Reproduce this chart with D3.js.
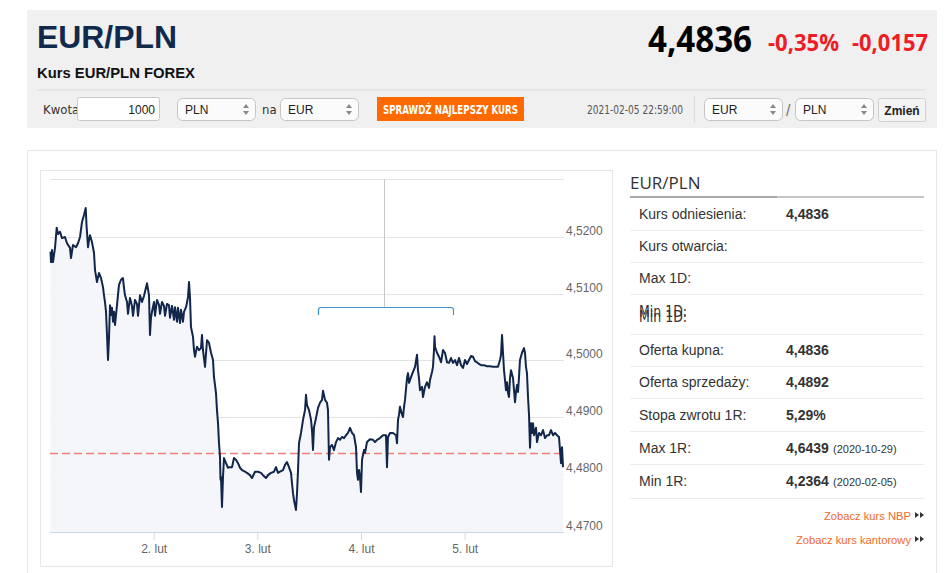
<!DOCTYPE html>
<html>
<head>
<meta charset="utf-8">
<script src="https://cdn.jsdelivr.net/npm/d3@7"></script>
<style>
  html, body { margin: 0; padding: 0; background: #fff; }
  svg { display: block; font-family: "Liberation Sans", Arial, sans-serif; }
</style>
</head>
<body>
<svg id="page"></svg>
<script>
// hours since 2021-02-01 00:00 and EUR/PLN rate
const hours = [0.12,0.23,0.46,0.69,1.16,1.55,1.85,2.32,2.78,3.47,3.94,4.63,4.86,5.32,6.02,6.48,6.95,7.41,7.87,8.27,
  8.45,8.80,9.03,9.26,9.72,10.19,10.42,10.88,11.34,11.81,12.27,12.50,12.73,12.97,13.20,13.43,13.66,13.89,14.12,14.35,
  14.59,14.82,15.05,15.51,15.97,16.44,16.90,17.13,17.36,17.83,18.06,18.52,18.98,19.22,19.68,20.14,20.37,20.84,21.30,21.76,
  21.99,22.46,22.92,23.15,23.38,23.61,24.08,24.31,24.77,25.24,25.47,25.93,26.39,26.63,27.09,27.55,27.78,28.25,28.71,28.94,
  29.40,29.63,30.10,30.33,30.79,31.02,31.49,31.95,32.18,32.41,32.64,33.11,33.34,33.57,34.03,34.50,34.96,35.19,35.42,35.89,
  36.35,36.81,37.28,37.74,37.97,38.43,38.66,38.90,39.13,39.36,39.47,39.59,39.82,40.05,40.28,40.75,41.21,41.67,42.14,42.60,
  43.06,43.53,43.99,44.45,45.15,45.61,46.30,46.77,47.46,48.16,48.85,49.31,50.01,50.47,51.17,51.86,52.32,52.79,53.25,53.94,
  54.41,54.87,55.33,55.80,56.03,56.26,56.49,56.95,57.19,57.42,57.65,58.11,58.58,59.04,59.27,59.50,59.97,60.43,60.66,60.89,
  61.12,61.58,62.05,62.51,62.97,63.21,63.67,64.13,64.36,64.59,64.83,65.29,65.75,66.22,66.68,67.14,67.60,68.07,68.53,68.99,
  69.46,69.92,70.38,70.85,71.08,71.31,71.54,71.77,72.00,72.24,72.70,72.93,73.39,74.09,74.78,75.24,75.71,76.40,77.10,77.79,
  78.02,78.25,78.72,79.41,80.11,80.34,80.57,80.80,81.03,81.50,81.73,81.96,82.19,82.65,82.89,83.12,83.58,84.04,84.51,84.97,
  85.20,85.43,85.66,86.13,86.36,86.82,87.28,87.75,87.98,88.44,88.67,88.90,89.02,89.14,89.60,90.06,90.53,90.99,91.45,91.91,
  92.38,92.84,93.30,93.77,94.23,94.69,95.16,95.62,96.08,96.54,97.01,97.47,97.93,98.40,98.86,99.32,99.79,100.48,101.17,101.87,
  102.56,103.26,103.72,104.18,104.42,104.65,104.88,105.11,105.34,105.57,105.81,106.04,106.27,106.50,106.73,107.20,107.43,107.66,107.89,108.12,
  108.35,108.58,108.81,109.28,109.74,109.97,110.20,110.43,110.67,110.90,111.13,111.36,111.59,111.82,112.06,112.52,112.75,113.21,113.68,114.14,
  114.60,115.07,115.53,115.99,116.46,116.92,117.38,117.84,118.08,118.31,118.54,118.77];
const rates = [4.5174,4.5156,4.5177,4.5156,4.5181,4.5216,4.5205,4.5209,4.5198,4.5200,4.5189,4.5181,4.5163,4.5186,4.5182,4.5189,4.5200,4.5226,4.5238,4.5250,
  4.5221,4.5182,4.5195,4.5203,4.5191,4.5172,4.5142,4.5121,4.5137,4.5128,4.5112,4.5098,4.5088,4.5073,4.5038,4.5000,4.5033,4.5083,4.5068,4.5079,
  4.5058,4.5073,4.5053,4.5083,4.5116,4.5125,4.5128,4.5111,4.5098,4.5088,4.5070,4.5094,4.5082,4.5067,4.5091,4.5085,4.5067,4.5098,4.5088,4.5097,
  4.5104,4.5119,4.5098,4.5038,4.5064,4.5073,4.5088,4.5067,4.5091,4.5083,4.5070,4.5088,4.5082,4.5067,4.5085,4.5083,4.5064,4.5082,4.5061,4.5080,
  4.5058,4.5079,4.5056,4.5076,4.5058,4.5073,4.5080,4.5095,4.5121,4.5095,4.5050,4.5035,4.5015,4.5005,4.5020,4.5015,4.5018,4.5038,4.5015,4.4988,
  4.5030,4.5026,4.5011,4.5000,4.4970,4.4942,4.4912,4.4889,4.4854,4.4830,4.4790,4.4795,4.4743,4.4795,4.4828,4.4819,4.4811,4.4812,4.4812,4.4828,
  4.4825,4.4819,4.4811,4.4807,4.4804,4.4802,4.4798,4.4793,4.4804,4.4804,4.4802,4.4798,4.4793,4.4798,4.4802,4.4804,4.4812,4.4802,4.4804,4.4807,
  4.4816,4.4821,4.4812,4.4802,4.4784,4.4767,4.4755,4.4738,4.4767,4.4807,4.4854,4.4872,4.4895,4.4912,4.4939,4.4921,4.4912,4.4895,4.4877,4.4842,
  4.4882,4.4898,4.4916,4.4925,4.4930,4.4946,4.4930,4.4925,4.4912,4.4825,4.4847,4.4851,4.4842,4.4856,4.4863,4.4860,4.4865,4.4863,4.4868,4.4872,
  4.4881,4.4872,4.4868,4.4847,4.4802,4.4790,4.4807,4.4795,4.4769,4.4825,4.4842,4.4837,4.4856,4.4861,4.4860,4.4856,4.4860,4.4863,4.4868,4.4868,
  4.4812,4.4865,4.4872,4.4872,4.4868,4.4854,4.4895,4.4904,4.4918,4.4904,4.4900,4.4918,4.4930,4.4968,4.4977,4.4960,4.4970,4.4979,4.4988,4.5008,
  4.4982,4.4968,4.4947,4.4953,4.4935,4.4953,4.4961,4.4951,4.4965,4.4979,4.4988,4.5015,4.5036,4.5020,4.5011,4.5005,4.4996,4.5015,4.5011,4.4996,
  4.4995,4.5003,4.4995,4.5000,4.4991,4.5003,4.4991,4.4986,4.5000,4.4993,4.5000,4.5006,4.5005,4.4998,4.4996,4.4993,4.4991,4.4991,4.4989,4.4989,
  4.4988,4.4988,4.4988,4.5000,4.5008,4.5038,4.5011,4.4982,4.4965,4.4947,4.4961,4.4942,4.4935,4.4968,4.4982,4.4968,4.4947,4.4926,4.4944,4.4956,
  4.4944,4.4970,4.5000,4.5011,4.5018,4.5011,4.4988,4.4977,4.4935,4.4904,4.4846,4.4889,4.4872,4.4889,4.4868,4.4881,4.4856,4.4872,4.4868,4.4877,
  4.4863,4.4868,4.4868,4.4877,4.4868,4.4872,4.4868,4.4865,4.4842,4.4819,4.4847,4.4812];

const refRate = 4.4836;
const yTicks = [4.47, 4.48, 4.49, 4.50, 4.51, 4.52];
const dayTicks = [2, 3, 4, 5];
const dayLabels = ['2. lut', '3. lut', '4. lut', '5. lut'];

const statLabels = ['Kurs odniesienia:', 'Kurs otwarcia:', 'Max 1D:', 'Min 1D:', 'Oferta kupna:', 'Oferta sprzedaży:', 'Stopa zwrotu 1R:', 'Max 1R:', 'Min 1R:'];
const statValues = ['4,4836', '', '', '', '4,4836', '4,4892', '5,29%', '4,6439', '4,2364'];
const statDates = ['', '', '', '', '', '', '', '(2020-10-29)', '(2020-02-05)'];

const width = 948;
const height = 573;
const start = new Date(2021, 1, 1, 0, 0);
const narrow = '"Liberation Sans Narrow", "DejaVu Sans Condensed", "Arial Narrow", sans-serif';

const svg = d3.select('#page').attr('width', width).attr('height', height);

// ---------- header ----------
svg.append('rect').attr('x', 27).attr('y', 10).attr('width', 910).attr('height', 118).attr('fill', '#f0f0f0');

svg.append('text').attr('x', 37).attr('y', 48)
    .attr('font-weight', 'bold').attr('font-size', 32).attr('fill', '#112a4c')
    .attr('textLength', 140).attr('lengthAdjust', 'spacingAndGlyphs')
    .text('EUR/PLN');
svg.append('text').attr('x', 37).attr('y', 78)
    .attr('font-weight', 'bold').attr('font-size', 15).attr('fill', '#111')
    .attr('textLength', 158).attr('lengthAdjust', 'spacingAndGlyphs')
    .text('Kurs EUR/PLN FOREX');

svg.append('text').attr('x', 648).attr('y', 52)
    .attr('font-family', '"Open Sans", sans-serif').attr('font-weight', 'bold').attr('font-size', 36).attr('fill', '#000')
    .attr('textLength', 104).attr('lengthAdjust', 'spacingAndGlyphs')
    .text('4,4836');
svg.append('text').attr('x', 768).attr('y', 51)
    .attr('font-family', '"Open Sans", sans-serif').attr('font-weight', 'bold').attr('font-size', 23).attr('fill', '#ee1c25')
    .attr('textLength', 71).attr('lengthAdjust', 'spacingAndGlyphs')
    .text('-0,35%');
svg.append('text').attr('x', 852).attr('y', 51)
    .attr('font-family', '"Open Sans", sans-serif').attr('font-weight', 'bold').attr('font-size', 23).attr('fill', '#ee1c25')
    .attr('textLength', 76).attr('lengthAdjust', 'spacingAndGlyphs')
    .text('-0,0157');

svg.append('line').attr('x1', 37).attr('x2', 925).attr('y1', 90).attr('y2', 90).attr('stroke', '#dcdcdc');

// controls row
svg.append('text').attr('x', 43).attr('y', 114).attr('font-family', narrow).attr('font-size', 13).attr('fill', '#333').text('Kwota');
svg.append('rect').attr('x', 77.5).attr('y', 97.5).attr('width', 82).attr('height', 23).attr('rx', 2)
    .attr('fill', '#fff').attr('stroke', '#c8c8c8');
svg.append('text').attr('x', 155).attr('y', 114).attr('text-anchor', 'end').attr('font-size', 12).attr('fill', '#222').text('1000');

function selectBox(x, w, label) {
    const g = svg.append('g').attr('transform', `translate(${x},98.5)`);
    g.append('rect').attr('x', 0.5).attr('width', w).attr('height', 22).attr('rx', 5)
        .attr('fill', '#fbfbfb').attr('stroke', '#c4c4c4');
    g.append('text').attr('x', 8).attr('y', 15).attr('font-size', 12).attr('fill', '#222').text(label);
    g.append('path').attr('d', `M${w - 12},9.5 l3,-4 l3,4 z M${w - 12},12.5 l3,4 l3,-4 z`).attr('fill', '#888');
}
selectBox(177, 78, 'PLN');
svg.append('text').attr('x', 262).attr('y', 114).attr('font-family', narrow).attr('font-size', 13).attr('fill', '#333').text('na');
selectBox(280, 78, 'EUR');

svg.append('rect').attr('x', 377).attr('y', 97).attr('width', 147).attr('height', 24).attr('fill', '#ff6a00');
svg.append('text').attr('x', 450.5).attr('y', 113.5).attr('text-anchor', 'middle')
    .attr('font-family', narrow).attr('font-weight', 'bold').attr('font-size', 12).attr('fill', '#fff')
    .attr('textLength', 135).attr('lengthAdjust', 'spacingAndGlyphs')
    .text('SPRAWDŹ NAJLEPSZY KURS');

svg.append('text').attr('x', 587).attr('y', 114).attr('font-family', narrow).attr('font-size', 12).attr('fill', '#555')
    .attr('textLength', 96).attr('lengthAdjust', 'spacingAndGlyphs')
    .text('2021-02-05 22:59:00');
svg.append('line').attr('x1', 694.5).attr('x2', 694.5).attr('y1', 96).attr('y2', 123).attr('stroke', '#dadada');

selectBox(704, 78, 'EUR');
svg.append('text').attr('x', 786).attr('y', 116).attr('font-size', 16).attr('fill', '#777').text('/');
selectBox(795, 78, 'PLN');

svg.append('rect').attr('x', 878.5).attr('y', 98.5).attr('width', 47).attr('height', 23).attr('rx', 2)
    .attr('fill', '#f4f4f4').attr('stroke', '#d0d0d0');
svg.append('text').attr('x', 902).attr('y', 115).attr('text-anchor', 'middle')
    .attr('font-weight', 'bold').attr('font-size', 12).attr('fill', '#222').text('Zmień');

// ---------- lower panel ----------
svg.append('rect').attr('x', 27.5).attr('y', 150.5).attr('width', 909).attr('height', 440)
    .attr('fill', '#fff').attr('stroke', '#e6e6e6');
svg.append('rect').attr('x', 40.5).attr('y', 170.5).attr('width', 572).attr('height', 396)
    .attr('fill', '#fff').attr('stroke', '#e6e6e6');

// ---------- chart ----------
const x = d3.scaleTime()
    .domain([start, new Date(2021, 1, 5, 23, 0)])
    .range([50, 564]);
const y = d3.scaleLinear()
    .domain([4.47, 4.48, 4.49, 4.50, 4.51, 4.52, 4.53])
    .range([532, 474, 417, 360, 294, 237, 179]);

const data = hours.map((h, i) => ({ t: new Date(start.getTime() + h * 3600000), v: rates[i] }));
const comma = d => d3.format('.4f')(d).replace('.', ',');

// grid lines
svg.append('g')
    .selectAll('line')
    .data(yTicks.concat([4.53]))
    .join('line')
    .attr('x1', 50).attr('x2', 564)
    .attr('y1', d => Math.round(y(d)) + 0.5).attr('y2', d => Math.round(y(d)) + 0.5)
    .attr('stroke', '#e3e3e3');

// area + line
svg.append('path')
    .datum(data)
    .attr('fill', '#f4f6f9')
    .attr('d', d3.area().x(d => x(d.t)).y0(532).y1(d => y(d.v)));

svg.append('line')
    .attr('x1', 50).attr('x2', 564)
    .attr('y1', y(refRate)).attr('y2', y(refRate))
    .attr('stroke', '#f47c7c').attr('stroke-width', 1.5).attr('stroke-dasharray', '8,4');

svg.append('path')
    .datum(data)
    .attr('fill', 'none')
    .attr('stroke', '#11264a')
    .attr('stroke-width', 2)
    .attr('stroke-linejoin', 'round')
    .attr('d', d3.line().x(d => x(d.t)).y(d => y(d.v)));

// x axis
const xAxis = svg.append('g')
    .attr('transform', 'translate(0,532)')
    .call(d3.axisBottom(x)
        .tickValues(dayTicks.map(d => new Date(2021, 1, d)))
        .tickFormat((d, i) => dayLabels[i])
        .tickSize(8)
        .tickPadding(4));
xAxis.select('.domain').attr('stroke', '#ccd6eb').attr('d', 'M50,0.5H564');
xAxis.selectAll('.tick line').attr('stroke', '#ccd6eb');
xAxis.selectAll('.tick text').attr('font-family', '"Liberation Sans", Arial, sans-serif')
    .attr('font-size', 12).attr('fill', '#666');

// y labels on the right
const yAxis = svg.append('g')
    .attr('transform', 'translate(564,0)')
    .call(d3.axisRight(y).tickValues(yTicks).tickFormat(comma).tickSize(0).tickPadding(2));
yAxis.select('.domain').remove();
yAxis.selectAll('.tick text')
    .attr('font-family', '"Liberation Sans", Arial, sans-serif')
    .attr('font-size', 12).attr('fill', '#666')
    .attr('dy', '-0.25em');

// crosshair and clipped tooltip edge
svg.append('line').attr('x1', 384.5).attr('x2', 384.5).attr('y1', 179).attr('y2', 307)
    .attr('stroke', '#c8c8c8');
svg.append('rect').attr('x', 318.5).attr('y', 307.5).attr('width', 135).attr('height', 8)
    .attr('fill', 'rgba(255,255,255,0.85)');
svg.append('path').attr('d', 'M318.5,315 V310 Q318.5,307.5 321,307.5 H451 Q453.5,307.5 453.5,310 V315')
    .attr('fill', 'none').attr('stroke', '#3f8fd2').attr('stroke-width', 1.2);

// ---------- right panel ----------
svg.append('text').attr('x', 630).attr('y', 189)
    .attr('font-family', '"Open Sans", sans-serif').attr('font-size', 17).attr('fill', '#333').text('EUR/PLN');
svg.append('line').attr('x1', 630).attr('x2', 777).attr('y1', 197).attr('y2', 197).attr('stroke', '#a8a8a8').attr('stroke-width', 2);
svg.append('line').attr('x1', 777).attr('x2', 924).attr('y1', 197).attr('y2', 197).attr('stroke', '#c6c6c6').attr('stroke-width', 2);

const rowTops = [198, 230, 262, 294, 334, 366, 398, 431, 464];
const rowBottoms = [230, 262, 294, 334, 366, 398, 431, 464, 498];

const rows = svg.append('g').selectAll('g')
    .data(statLabels)
    .join('g');

rows.append('line')
    .attr('x1', 630).attr('x2', 924)
    .attr('y1', (d, i) => rowBottoms[i] + 0.5).attr('y2', (d, i) => rowBottoms[i] + 0.5)
    .attr('stroke', '#ececec');

rows.filter((d, i) => i !== 3).append('text')
    .attr('x', 639)
    .attr('y', d => {
        const idx = statLabels.indexOf(d);
        return (rowTops[idx] + rowBottoms[idx]) / 2 + 5;
    })
    .attr('font-size', 14).attr('fill', '#333')
    .text(d => d);

// the "Min 1D:" row is drawn twice, slightly offset, as on the page
[317, 322].forEach(b => {
    svg.append('text').attr('x', 639).attr('y', b)
        .attr('font-family', narrow).attr('font-size', 15).attr('fill', '#333')
        .attr('textLength', 48).attr('lengthAdjust', 'spacingAndGlyphs')
        .text(statLabels[3]);
});

rows.append('text')
    .attr('x', 786)
    .attr('y', (d, i) => (rowTops[i] + rowBottoms[i]) / 2 + 5)
    .attr('font-size', 14).attr('font-weight', 'bold').attr('fill', '#333')
    .text((d, i) => statValues[i]);

rows.append('text')
    .attr('x', 833)
    .attr('y', (d, i) => (rowTops[i] + rowBottoms[i]) / 2 + 5)
    .attr('font-size', 11).attr('fill', '#333')
    .text((d, i) => statDates[i]);

// links
[['Zobacz kurs NBP', 520], ['Zobacz kurs kantorowy', 544]].forEach(([t, b]) => {
    svg.append('text').attr('x', 911).attr('y', b).attr('text-anchor', 'end')
        .attr('font-size', 11.2).attr('fill', '#f26a2a').text(t);
    svg.append('path').attr('d', `M915,${b - 8} l4,3 l-4,3 z M920,${b - 8} l4,3 l-4,3 z`).attr('fill', '#333');
});
</script>
</body>
</html>
